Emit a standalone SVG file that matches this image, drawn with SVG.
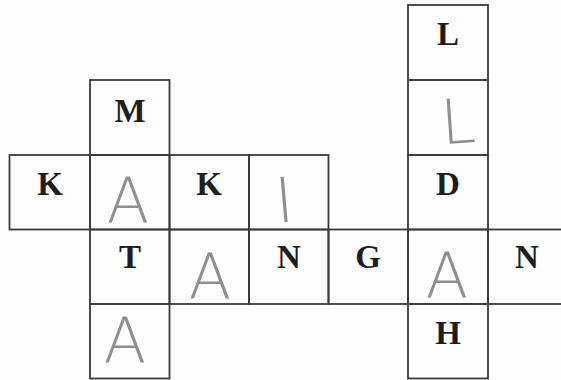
<svg xmlns="http://www.w3.org/2000/svg" width="561" height="380" viewBox="0 0 561 380">
<style>
.c{fill:none;stroke:#3a3a3a;stroke-width:1.8}
.p{font-family:"Liberation Serif","Times New Roman",serif;font-weight:bold;font-size:33px;fill:#1e1e1e;text-anchor:middle}
.h{font-family:"DejaVu Sans","Liberation Sans",sans-serif;font-weight:200;font-size:62px;fill:#8f8f8f;text-anchor:middle}
</style>
<rect width="561" height="380" fill="#fdfdfd"/>
<g id="cell-L1"><rect class="c" x="408" y="5" width="80" height="75"/><text class="p" x="448" y="45">L</text></g>
<g id="cell-L2"><rect class="c" x="408" y="80" width="80" height="75"/><text class="h" x="458" y="143" transform="rotate(-4 458 120)">L</text></g>
<g id="cell-D"><rect class="c" x="408" y="155" width="80" height="74.5"/><text class="p" x="448" y="195">D</text></g>
<g id="cell-A4"><rect class="c" x="408" y="229.5" width="80" height="74.5"/><text class="h" x="447" y="297">A</text></g>
<g id="cell-H"><rect class="c" x="408" y="304" width="80" height="74.5"/><text class="p" x="448" y="344">H</text></g>
<g id="cell-M"><rect class="c" x="90" y="80" width="79.5" height="75"/><text class="p" x="130" y="122">M</text></g>
<g id="cell-K1"><rect class="c" x="9.5" y="155" width="80.5" height="74.5"/><text class="p" x="50" y="195">K</text></g>
<g id="cell-A1"><rect class="c" x="90" y="155" width="79.5" height="74.5"/><text class="h" x="128" y="222">A</text></g>
<g id="cell-K2"><rect class="c" x="169.5" y="155" width="79.5" height="74.5"/><text class="p" x="209" y="195">K</text></g>
<g id="cell-I"><rect class="c" x="249" y="155" width="79.5" height="74.5"/><text class="h" x="284" y="222" transform="rotate(-5 284 198)">I</text></g>
<g id="cell-T"><rect class="c" x="90" y="229.5" width="79.5" height="74.5"/><text class="p" x="130" y="268">T</text></g>
<g id="cell-A2"><rect class="c" x="169.5" y="229.5" width="79.5" height="74.5"/><text class="h" x="210" y="298">A</text></g>
<g id="cell-N1"><rect class="c" x="249" y="229.5" width="79.5" height="74.5"/><text class="p" x="289" y="268">N</text></g>
<g id="cell-G"><rect class="c" x="328.5" y="229.5" width="79.5" height="74.5"/><text class="p" x="368" y="268">G</text></g>
<g id="cell-N2"><rect class="c" x="488" y="229.5" width="90" height="74.5"/><text class="p" x="527" y="268">N</text></g>
<g id="cell-A3"><rect class="c" x="90" y="304" width="79.5" height="74.5"/><text class="h" x="125" y="362">A</text></g>
</svg>
